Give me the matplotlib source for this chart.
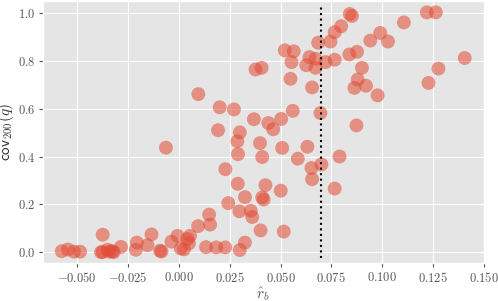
import matplotlib
matplotlib.use("Agg")
import matplotlib.pyplot as plt
from matplotlib.ticker import FuncFormatter

plt.style.use("ggplot")
plt.rcParams["mathtext.fontset"] = "cm"

# estimated r_b values and cov_200(q)
r_b = [-0.0575, -0.0545, -0.0515, -0.0485, -0.0374, -0.0382, -0.0374, -0.0350,
       -0.0340, -0.0325, -0.0320, -0.0284, -0.0211, -0.0206, -0.0154, -0.0134,
       -0.0092, -0.0085, -0.0036, -0.0006, 0.0010, 0.0026, 0.0043, 0.0050,
       0.0055, 0.0095, 0.0149, 0.0154, 0.0134, 0.0184, 0.0228, 0.0300,
       0.0325, -0.0063, 0.0229, 0.0243, 0.0290, 0.0291, 0.0298, 0.0325,
       0.0354, 0.0361, 0.0402, 0.0516, 0.0410, 0.0417, 0.0426, 0.0501,
       0.0410, 0.0399, 0.0585, 0.0508, 0.0632, 0.0464, 0.0440, 0.0369,
       0.0503, 0.0560, 0.0696, 0.0096, 0.0201, 0.0271, 0.0193, 0.0300,
       0.0288, 0.0701, 0.0652, 0.0655, 0.0766, 0.0790, 0.0377, 0.0407,
       0.0521, 0.0565, 0.0554, 0.0549, 0.0655, 0.0626, 0.0642, 0.0672,
       0.0672, 0.0685, 0.0721, 0.0745, 0.0766, 0.0766, 0.0798, 0.0840,
       0.0851, 0.0838, 0.0876, 0.0900, 0.0879, 0.0863, 0.0920, 0.0977,
       0.0941, 0.0990, 0.1028, 0.1106, 0.1219, 0.1263, 0.1405, 0.1276,
       0.1227, 0.0873]
cov = [0.004, 0.011, 0.002, 0.002, 0.073, 0.000, 0.000, 0.010,
       0.002, 0.004, 0.000, 0.022, 0.010, 0.040, 0.029, 0.074,
       0.006, 0.003, 0.044, 0.068, 0.015, 0.012, 0.055, 0.037,
       0.068, 0.109, 0.157, 0.115, 0.021, 0.020, 0.020, 0.009,
       0.040, 0.437, 0.347, 0.205, 0.286, 0.410, 0.171, 0.230,
       0.173, 0.147, 0.091, 0.086, 0.229, 0.220, 0.280, 0.257,
       0.398, 0.456, 0.391, 0.436, 0.441, 0.514, 0.540, 0.556,
       0.557, 0.591, 0.582, 0.661, 0.606, 0.597, 0.510, 0.501,
       0.464, 0.367, 0.352, 0.305, 0.266, 0.400, 0.764, 0.771,
       0.844, 0.840, 0.795, 0.725, 0.689, 0.782, 0.816, 0.809,
       0.771, 0.876, 0.795, 0.881, 0.920, 0.805, 0.945, 0.996,
       0.988, 0.827, 0.838, 0.771, 0.722, 0.687, 0.696, 0.656,
       0.885, 0.917, 0.881, 0.961, 1.003, 1.003, 0.812, 0.768,
       0.708, 0.530]
threshold = 0.07

fig = plt.figure(figsize=(4.98, 3.01), dpi=100)
ax = fig.add_axes([0.086, 0.125, 0.886, 0.872])

ax.scatter(r_b, cov, s=100, color="#E24A33", alpha=0.55, edgecolors="none")
ax.vlines(threshold, -0.025, 1.025, colors="black", linestyles="dotted", linewidth=1.5)

ax.set_xlim(-0.0668, 0.150)
ax.set_ylim(-0.047, 1.051)
ax.set_xticks([-0.05, -0.025, 0.0, 0.025, 0.05, 0.075, 0.1, 0.125, 0.15])
ax.set_yticks([0.0, 0.2, 0.4, 0.6, 0.8, 1.0])
ax.xaxis.set_major_formatter(FuncFormatter(lambda v, p: r"$%.3f$" % v))
ax.yaxis.set_major_formatter(FuncFormatter(lambda v, p: r"$%.1f$" % v))
ax.tick_params(labelsize=9, colors="#555555", length=3, pad=2.5)

ax.set_xlabel(r"$\hat{r}_b$", fontsize=11, color="#555555", labelpad=0)
ax.set_ylabel(r"$\mathsf{cov}_{200}(q)$", fontsize=11, color="#333333", labelpad=1)

fig.savefig("out.png", dpi=100)
